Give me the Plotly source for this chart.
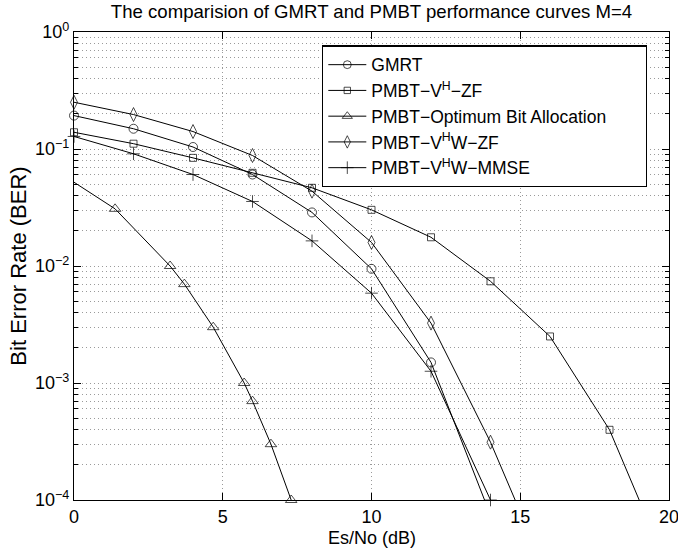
import plotly.graph_objects as go

# ---- data ----
snr_gmrt = [0, 2, 4, 6, 8, 10, 12, 14]
ber_gmrt = [0.193, 0.149, 0.104, 0.0605, 0.0287, 0.00946, 0.0015, 7.4e-5]

snr_vhzf = [0, 2, 4, 6, 8, 10, 12, 14, 16, 18, 20]
ber_vhzf = [0.139, 0.111, 0.084, 0.0626, 0.0466, 0.0302, 0.0176, 0.0074, 0.0025, 0.000398, 2.5e-5]

snr_opt = [0, 1.38, 3.23, 3.71, 4.68, 5.72, 6.0, 6.62, 7.3]
ber_opt = [0.052, 0.0308, 0.01, 0.007, 0.003, 0.001, 0.0007, 0.0003, 0.0001]

snr_vhwzf = [0, 2, 4, 6, 8, 10, 12, 14, 16]
ber_vhwzf = [0.251, 0.197, 0.141, 0.088, 0.0436, 0.0159, 0.00325, 0.000312, 2e-5]

snr_mmse = [0, 2, 4, 6, 8, 10, 12, 14]
ber_mmse = [0.128, 0.091, 0.0605, 0.0356, 0.0164, 0.00586, 0.00126, 1e-4]

names = ["GMRT", "PMBT−V<sup>H</sup>−ZF",
         "PMBT−Optimum Bit Allocation" + "\u00a0" * 7,
         "PMBT−V<sup>H</sup>W−ZF", "PMBT−V<sup>H</sup>W−MMSE"]

x_ticks = [0, 5, 10, 15, 20]
y_ticks = [1e-4, 1e-3, 1e-2, 1e-1, 1]
y_ticktext = ["10<sup>−4</sup>", "10<sup>−3</sup>", "10<sup>−2</sup>",
              "10<sup>−1</sup>", "10<sup>0</sup>"]

FONT = "Liberation Sans, Arial, Helvetica, sans-serif"
FS = 18

series = [
    (snr_gmrt, ber_gmrt, "circle-open", 9),
    (snr_vhzf, ber_vhzf, "square-open", 7),
    (snr_opt, ber_opt, "triangle-up-open", 10),
    (snr_vhwzf, ber_vhwzf, "diamond-tall-open", 10),
    (snr_mmse, ber_mmse, "cross-thin-open", 9),
]

fig = go.Figure()
for i, ((xs, ys, sym, sz), nm) in enumerate(zip(series, names)):
    sizes = [sz if y >= 1e-4 - 1e-12 else 0 for y in ys]
    if i == 2:
        sizes[0] = 0  # first point of this curve shows no marker
    fig.add_trace(go.Scatter(
        x=xs, y=ys, name=nm, mode="lines+markers",
        line=dict(color="black", width=1),
        marker=dict(symbol=sym, size=sizes, color="black",
                    line=dict(color="black", width=1)),
        cliponaxis=False,
    ))

GRIDC = "#9a9a9a"
grid = dict(showgrid=True, gridcolor=GRIDC, gridwidth=1, griddash="1px,3px")

fig.update_layout(
    width=678, height=549,
    margin=dict(l=74, r=9, t=31.5, b=49, autoexpand=False),
    paper_bgcolor="white", plot_bgcolor="white",
    font=dict(family=FONT, size=FS, color="black"),
    title=dict(text="The comparision of GMRT and PMBT performance curves M=4",
               x=(74 + 669) / 2 / 678, xanchor="center",
               y=1 - 11.5 / 549, yanchor="middle", yref="container",
               font=dict(family=FONT, size=18.6)),
    showlegend=True,
    legend=dict(x=(322 - 74) / 595, y=1 - (45 - 31.5) / 468.5,
                xanchor="left", yanchor="top",
                bgcolor="white", bordercolor="black", borderwidth=1.3,
                font=dict(size=17.5), tracegroupgap=0,
                itemwidth=38),
    xaxis=dict(range=[0, 20], tickvals=x_ticks, automargin=False,
               ticks="inside", ticklen=7, tickcolor="black",
               showline=True, linecolor="black", linewidth=1.2, mirror="ticks",
               zeroline=False, ticklabeloverflow="allow",
               **grid),
    yaxis=dict(type="log", range=[-4, 0], tickvals=y_ticks, ticktext=y_ticktext,
               ticks="inside", ticklen=7, tickcolor="black", automargin=False,
               showline=True, linecolor="black", linewidth=1.2, mirror="ticks",
               zeroline=False, ticklabeloverflow="allow",
               title=dict(text="Bit Error Rate (BER)", standoff=2),
               minor=dict(dtick="D1", ticks="inside", ticklen=4, tickcolor="black",
                          showgrid=True, gridcolor=GRIDC, gridwidth=1,
                          griddash="1px,3px"),
               **grid),
    annotations=[dict(text="Es/No (dB)", xref="paper", yref="paper",
                      x=0.5, y=-(538.5 - 500) / 468.5, xanchor="center",
                      yanchor="middle", showarrow=False, borderpad=0,
                      font=dict(family=FONT, size=FS))],
)

fig.write_html("out.html")
